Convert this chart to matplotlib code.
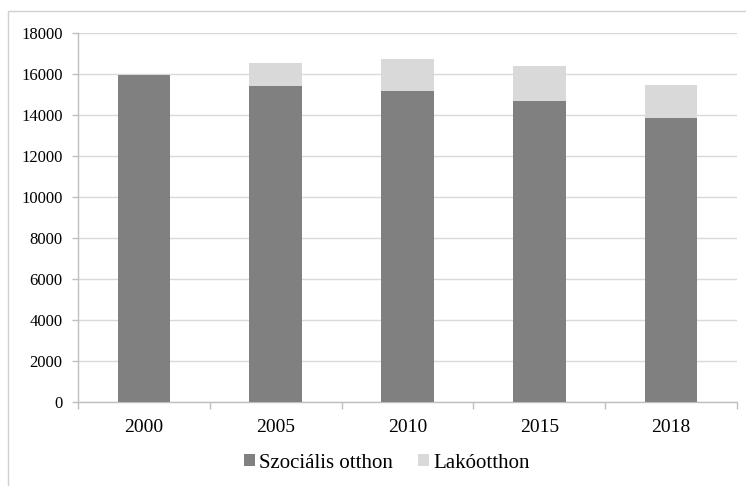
import matplotlib
matplotlib.use("Agg")
import matplotlib.pyplot as plt
from matplotlib.patches import Rectangle
from matplotlib.ticker import MultipleLocator, FixedLocator

years = ["2000", "2005", "2010", "2015", "2018"]
szocialis = [15960, 15410, 15190, 14680, 13850]
lakoott = [0, 1110, 1540, 1690, 1610]
series_names = ["Szociális otthon", "Lakóotthon"]

plt.rcParams['font.family'] = ['Liberation Serif', 'DejaVu Serif']

fig = plt.figure(figsize=(7.46, 4.86), dpi=100)
fig.patches.append(Rectangle((8/746, -0.1), 1.2, 1 - 11/486 + 0.1, transform=fig.transFigure,
                             fill=False, edgecolor='#d0d0d0', linewidth=1.0))
ax = fig.add_axes([78/746, 1 - 402/486, (737 - 78)/746, (402 - 33)/486])

x = list(range(len(years)))
ax.bar(x, szocialis, width=0.4, color='#808080', label=series_names[0], zorder=3)
ax.bar(x, lakoott, width=0.4, bottom=szocialis, color='#d9d9d9', label=series_names[1], zorder=3)

ax.set_xlim(-0.5, len(years) - 0.5)
ax.set_ylim(0, 18000)
ax.yaxis.set_major_locator(MultipleLocator(2000))
ax.grid(axis='y', color='#d9d9d9', linewidth=1.0, zorder=0)

ax.set_xticks(x)
ax.set_xticklabels(years)
ax.xaxis.set_minor_locator(FixedLocator([i - 0.5 for i in range(len(years) + 1)]))
ax.tick_params(axis='x', which='major', length=0, pad=12, labelsize=14)
ax.tick_params(axis='x', which='minor', length=5, color='#bfbfbf', width=1)
ax.tick_params(axis='y', which='major', length=4, color='#bfbfbf', width=1, labelsize=12, pad=7)

for s in ['top', 'right']:
    ax.spines[s].set_visible(False)
for s in ['left', 'bottom']:
    ax.spines[s].set_color('#bfbfbf')
    ax.spines[s].set_linewidth(1.0)

fig.legend(loc='center', bbox_to_anchor=(387/746, 1 - 463/486), ncol=2, frameon=False,
           prop={'family': ['Liberation Serif', 'DejaVu Serif'], 'size': 15},
           handlelength=0.53, handleheight=0.53, handletextpad=0.2,
           columnspacing=1.2, borderpad=0)

fig.savefig("out.png", dpi=100)
